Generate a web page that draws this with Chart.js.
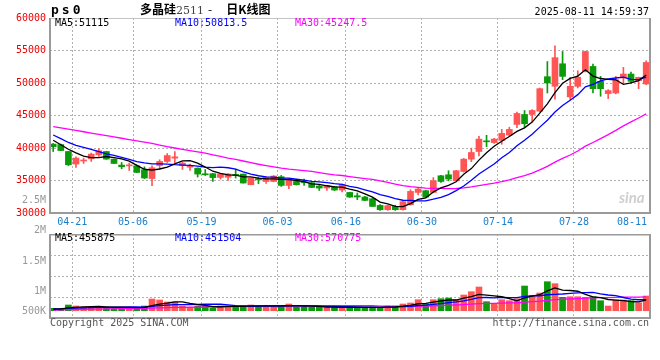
<!DOCTYPE html>
<html><head><meta charset="utf-8">
<script src="https://cdn.jsdelivr.net/npm/chart.js@4.4.1/dist/chart.umd.min.js"></script>
<style>
html,body{margin:0;padding:0;background:#fff;}
body{width:660px;height:360px;overflow:hidden;position:relative;font-family:'DejaVu Sans Mono',monospace;}
canvas{position:absolute;left:0;}
#price{top:0;}
#vol{top:226px;}
.t{position:absolute;white-space:nowrap;font-size:10px;line-height:12px;font-family:'DejaVu Sans Mono',monospace;}
.r{text-align:right;}
.g{color:#999;}
</style></head><body>
<canvas id="price" width="660" height="232"></canvas>
<canvas id="vol" width="660" height="94"></canvas>

<div class="t" style="left:51px;top:2px;font:bold 13px 'DejaVu Sans Mono';letter-spacing:3px;line-height:16px;">ps0</div>
<div class="t" style="left:140px;top:1px;font:bold 12px 'Noto Sans CJK SC';line-height:16px;">多晶硅<span style="font:11px 'DejaVu Serif';color:#444;">2511</span><span style="font-weight:normal;margin-left:4px;">-</span><span style="margin-left:14px;">日K线图</span></div>
<div class="t" style="right:11px;top:6px;">2025-08-11 14:59:37</div>

<div class="t" style="left:55px;top:17px;color:#000;">MA5:51115</div>
<div class="t" style="left:175px;top:17px;color:#0000ff;">MA10:50813.5</div>
<div class="t" style="left:295px;top:17px;color:#ff00ff;">MA30:45247.5</div>

<div class="t" style="left:55px;top:232px;color:#000;">MA5:455875</div>
<div class="t" style="left:175px;top:232px;color:#0000ff;">MA10:451504</div>
<div class="t" style="left:295px;top:232px;color:#ff00ff;">MA30:570775</div>

<div id="volLabels"></div>

<div class="t" style="left:50px;top:317px;color:#555;">Copyright 2025 SINA.COM</div>
<div class="t" style="right:11px;top:317px;color:#555;">http://finance.sina.com.cn</div>
<div class="t" style="left:619px;top:189px;font:italic bold 15px Lato;color:#cfcfcf;line-height:16px;">sina</div>

<script>
const dates = ['04-17','04-18','04-21','04-22','04-23','04-24','04-25','04-28','04-29','04-30',
 '05-06','05-07','05-08','05-09','05-12','05-13','05-14','05-15','05-16','05-19',
 '05-20','05-21','05-22','05-23','05-26','05-27','05-28','05-29','05-30','06-03',
 '06-04','06-05','06-06','06-09','06-10','06-11','06-12','06-13','06-16','06-17',
 '06-18','06-19','06-20','06-23','06-24','06-25','06-26','06-27','06-30','07-01',
 '07-02','07-03','07-04','07-07','07-08','07-09','07-10','07-11','07-14','07-15',
 '07-16','07-17','07-18','07-21','07-22','07-23','07-24','07-25','07-28','07-29',
 '07-30','07-31','08-01','08-04','08-05','08-06','08-07','08-08','08-11'];

const open = [40600,40530,39460,37530,38000,38340,38950,39460,38290,37370,
 37250,37265,36650,35300,37310,37930,38440,37310,37050,36900,
 36000,36050,35470,35500,35930,35990,34350,35300,34850,34850,
 35580,34240,34850,34810,34650,34150,33840,34040,33530,33160,
 32660,32460,32200,31170,30510,31010,30510,31270,33160,33430,
 33160,35730,35880,34960,36390,38290,39460,41100,40840,41180,
 41990,43630,45160,45160,45670,50970,49500,52960,47860,49490,
 51790,52550,50260,48370,48470,50770,51380,50360,49850];
const high = [40700,40600,39500,38650,38450,39220,39880,39500,38300,37770,
 37680,37420,37110,37265,38190,39150,39460,37830,37530,36950,
 36690,36100,36050,36050,36760,36000,35400,35500,35620,35750,
 35780,35300,34900,35220,34700,34350,34250,34100,34450,33200,
 33070,32550,32250,31300,31200,31200,31800,33580,33900,33500,
 35450,35800,36500,36550,38400,39980,41800,41950,41480,42860,
 43200,45510,45770,45920,49230,53300,55700,54850,50870,51890,
 54900,52910,51020,48980,51020,52400,51690,50900,53420];
const low = [39460,39600,37300,37000,37620,37930,38700,38250,37600,36800,
 36540,36200,35300,34190,36760,37770,37680,36690,36540,35530,
 35770,34850,35220,35000,35380,34600,34350,34500,34550,34800,
 34090,33730,34300,34240,33900,33470,33470,33450,33230,32400,
 32040,31900,31000,30400,30400,30400,30450,31200,32800,32400,
 33100,34700,34950,34900,36300,37900,38800,40200,40700,40570,
 41800,43120,43120,44030,45600,48470,47500,50510,47450,49240,
 51700,48470,47960,47600,48320,50000,50000,49130,49750];
const close = [40180,39610,37420,38450,38080,39060,39570,38290,37620,37110,
 37320,36240,35380,36960,37930,38840,38640,37680,37150,35990,
 35880,35450,35990,36000,35780,34610,35380,35100,35470,35680,
 34240,35270,34350,34650,33930,33840,34200,33530,34350,32450,
 32460,31940,31010,30510,31120,30510,31740,33320,33690,32460,
 34960,34850,35220,36500,38290,39310,41370,40950,41370,42250,
 42860,45310,43730,45770,49130,50000,53900,51020,49490,50870,
 54850,49130,49130,48830,50510,51380,50260,50870,53160];

const ma5 = [41200,40500,39800,39250,38750,38520,38520,38690,38520,38330,
 37980,37320,36730,36600,36770,37070,37550,38010,38050,37660,
 37070,36430,36090,35860,35820,35570,35550,35370,35270,35250,
 35170,35150,35000,34840,34490,34410,34190,34030,33970,33670,
 33400,32950,32440,31670,31410,31020,30980,31440,32080,32340,
 33230,33860,34240,34800,35960,36830,38140,39280,40260,41050,
 41760,42550,43100,43980,45360,46790,48510,49960,50710,51060,
 52030,51070,50690,50560,50490,49800,50020,50370,51240];
const ma10 = [42000,41450,40850,40400,40100,39800,39450,39100,38850,38540,
 38250,37920,37710,37560,37550,37530,37430,37370,37330,37210,
 37070,36990,37050,36960,36740,36320,35990,35730,35570,35530,
 35370,35350,35190,35050,34870,34790,34670,34520,34400,34080,
 33900,33570,33240,32820,32540,32210,31960,31940,31880,31880,
 32130,32420,32840,33440,34150,35030,36000,36760,37530,38510,
 39300,40340,41190,42120,43210,44270,45530,46530,47350,48210,
 49410,49790,50330,50640,50770,50910,50550,50530,50900];
const ma30 = [43300,43100,42900,42700,42500,42300,42100,41900,41700,41500,
 41300,41100,40900,40700,40450,40200,40000,39800,39600,39400,
 39200,38950,38700,38450,38250,38000,37750,37500,37300,37100,
 36900,36750,36650,36520,36390,36210,36030,35870,35770,35610,
 35450,35300,35160,34940,34720,34440,34210,34060,33950,33830,
 33800,33780,33750,33770,33850,34010,34210,34410,34600,34820,
 35110,35440,35760,36130,36630,37170,37830,38410,38920,39530,
 40280,40850,41450,42060,42710,43410,44020,44610,45260];

// volume, in thousands of lots
const volume = [100,100,238,196,155,155,146,142,134,142,
 142,100,196,489,447,364,364,196,142,196,
 196,100,196,196,196,196,238,196,196,196,
 196,280,142,196,142,142,142,142,142,142,
 142,142,142,142,196,196,280,322,460,280,
 460,502,531,460,656,794,991,376,293,460,
 418,502,1032,644,740,1212,1129,560,585,585,
 560,585,418,196,447,447,418,334,614];
const volMa5 = [70,80,120,140,158,169,178,159,146,144,
 141,132,143,214,275,319,372,372,303,252,
 219,166,166,177,177,177,204,204,204,204,
 204,213,202,202,191,180,153,153,142,142,
 142,142,142,142,153,164,191,227,291,308,
 360,405,447,447,522,589,686,655,622,583,
 508,410,541,611,667,826,951,857,845,814,
 684,575,547,469,441,419,385,368,452];
const volMa10 = [75,80,95,105,115,125,135,140,148,151,
 155,155,151,180,210,230,252,258,259,264,
 269,269,269,240,215,198,185,185,191,191,
 191,209,203,203,198,192,183,178,172,167,
 161,148,148,142,148,153,167,185,217,231,
 262,298,337,369,415,475,546,551,535,553,
 549,548,598,617,625,667,681,699,728,741,
 755,763,702,657,628,552,480,458,461];
const volMa30 = [30,35,45,55,60,65,70,75,80,85,
 90,92,95,105,115,125,135,140,145,150,
 155,158,162,166,170,178,185,192,197,202,
 205,211,208,208,207,207,207,207,207,207,
 207,208,207,195,187,181,178,182,193,196,
 205,218,229,238,253,273,298,304,308,316,
 324,331,361,376,396,431,464,478,493,508,
 522,536,546,547,556,564,569,569,574];

const tickDates = ['04-21','05-06','05-19','06-03','06-16','06-30','07-14','07-28','08-11'];
const priceRange = [30000, 60000];
const priceStep = 5000;
const volRange = [-305, 3206];
const volLabels = [['2.5M',200],['2M',230],['1.5M',260.5],['1M',290.5],['500K',310.5]];

const GRID = '#b2b2b2', FRAME = '#9a9a9a';
const UP = '#ff5555', DOWN = '#0a9a0a';
const candleColors = close.map((c, i) => c >= open[i] ? UP : DOWN);
const xMin = -0.42, xMax = dates.length - 0.5;
const gridTicks = tickDates.map(d => dates.indexOf(d) + 0.5);

const vl = document.getElementById('volLabels');
volLabels.forEach(([t, y]) => {
  const d = document.createElement('div');
  d.className = 't r g';
  d.style.cssText = 'right:614px;top:' + (y - 6) + 'px;';
  d.textContent = t;
  vl.appendChild(d);
});

function xAxis(h) {
  return {
    type: 'linear', min: xMin, max: xMax, offset: false,
    afterBuildTicks: s => { s.ticks = gridTicks.map(v => ({value: v})); },
    ticks: {display: false},
    grid: {color: GRID, lineWidth: 1, drawTicks: false, offset: false},
    border: {display: false, dash: [2, 2]},
    afterFit: s => { s.height = h; }
  };
}
const line = (arr, color) => ({
  type: 'line', data: arr.map((v, i) => ({x: i, y: v})),
  borderColor: color, borderWidth: 1.3, pointRadius: 0, tension: 0, fill: false
});

const framePlugin = {
  id: 'frame',
  afterDraw(chart) {
    const {ctx, chartArea: a} = chart;
    ctx.save();
    ctx.fillStyle = '#c4c4c4';
    ctx.fillRect(a.left, a.top, a.right - a.left, 1);
    ctx.fillStyle = FRAME;
    ctx.fillRect(a.left - 1, a.top, 2, a.bottom - a.top + 1);
    ctx.fillRect(a.right - 1, a.top, 2, a.bottom - a.top + 1);
    ctx.fillRect(a.left - 1, a.bottom - 1, a.right - a.left + 2, 2);
    if (chart.canvas.id === 'vol') ctx.fillRect(a.left - 1, a.top, a.right - a.left + 2, 1.5);
    if (chart.canvas.id === 'price') {
      const x = chart.scales.x;
      ctx.font = '10px "DejaVu Sans Mono"';
      ctx.fillStyle = '#1a7fcc';
      ctx.textBaseline = 'middle';
      ctx.textAlign = 'left';
      tickDates.forEach((lab, j) => {
        const px = x.getPixelForValue(gridTicks[j]);
        const w = ctx.measureText(lab).width;
        let left = px - w / 2;
        if (left + w > a.right - 3) left = a.right - 3 - w;
        ctx.fillText(lab, left, a.bottom + 9);
      });
    }
    ctx.restore();
  }
};

new Chart(document.getElementById('price'), {
  type: 'bar',
  data: {datasets: [
    line(ma5, '#000000'), line(ma10, '#0000ff'), line(ma30, '#ff00ff'),
    {data: dates.map((d, i) => ({x: i, y: [open[i], close[i]]})), backgroundColor: candleColors,
     barThickness: 6, minBarLength: 1, grouped: false, borderWidth: 0},
    {data: dates.map((d, i) => ({x: i, y: [low[i], high[i]]})), backgroundColor: candleColors,
     barThickness: 1, grouped: false, borderWidth: 0}
  ]},
  options: {
    responsive: false, animation: false, devicePixelRatio: 1,
    layout: {padding: {top: 18, right: 10, left: 0, bottom: 0}},
    plugins: {legend: {display: false}, tooltip: {enabled: false}},
    scales: {
      x: xAxis(19),
      y: {type: 'linear', min: priceRange[0], max: priceRange[1],
          ticks: {stepSize: priceStep, color: '#ee0000', padding: 4,
                  font: {family: 'DejaVu Sans Mono', size: 10}, callback: v => String(v)},
          grid: {color: GRID, lineWidth: 1, drawTicks: false},
          border: {display: false, dash: [2, 2]},
          afterFit: s => { s.width = 50; }}
    }
  },
  plugins: [framePlugin]
});

new Chart(document.getElementById('vol'), {
  type: 'bar',
  data: {datasets: [
    line(volMa5, '#000000'), line(volMa10, '#0000ff'), line(volMa30, '#ff00ff'),
    {data: volume.map((v, i) => ({x: i, y: v})), backgroundColor: candleColors,
     barThickness: 6, grouped: false, borderWidth: 0}
  ]},
  options: {
    responsive: false, animation: false, devicePixelRatio: 1,
    layout: {padding: {top: 8, right: 10, left: 0, bottom: 0}},
    plugins: {legend: {display: false}, tooltip: {enabled: false}},
    scales: {
      x: xAxis(2),
      y: {type: 'linear', min: volRange[0], max: volRange[1],
          afterBuildTicks: s => { s.ticks = [0, 1, 2, 3, 4].map(i => ({value: volRange[0] + i * (volRange[1] - volRange[0]) / 4})); },
          ticks: {display: false},
          grid: {color: GRID, lineWidth: 1, drawTicks: false},
          border: {display: false, dash: [2, 2]},
          afterFit: s => { s.width = 50; }}
    }
  },
  plugins: [framePlugin]
});
</script>
</body></html>
